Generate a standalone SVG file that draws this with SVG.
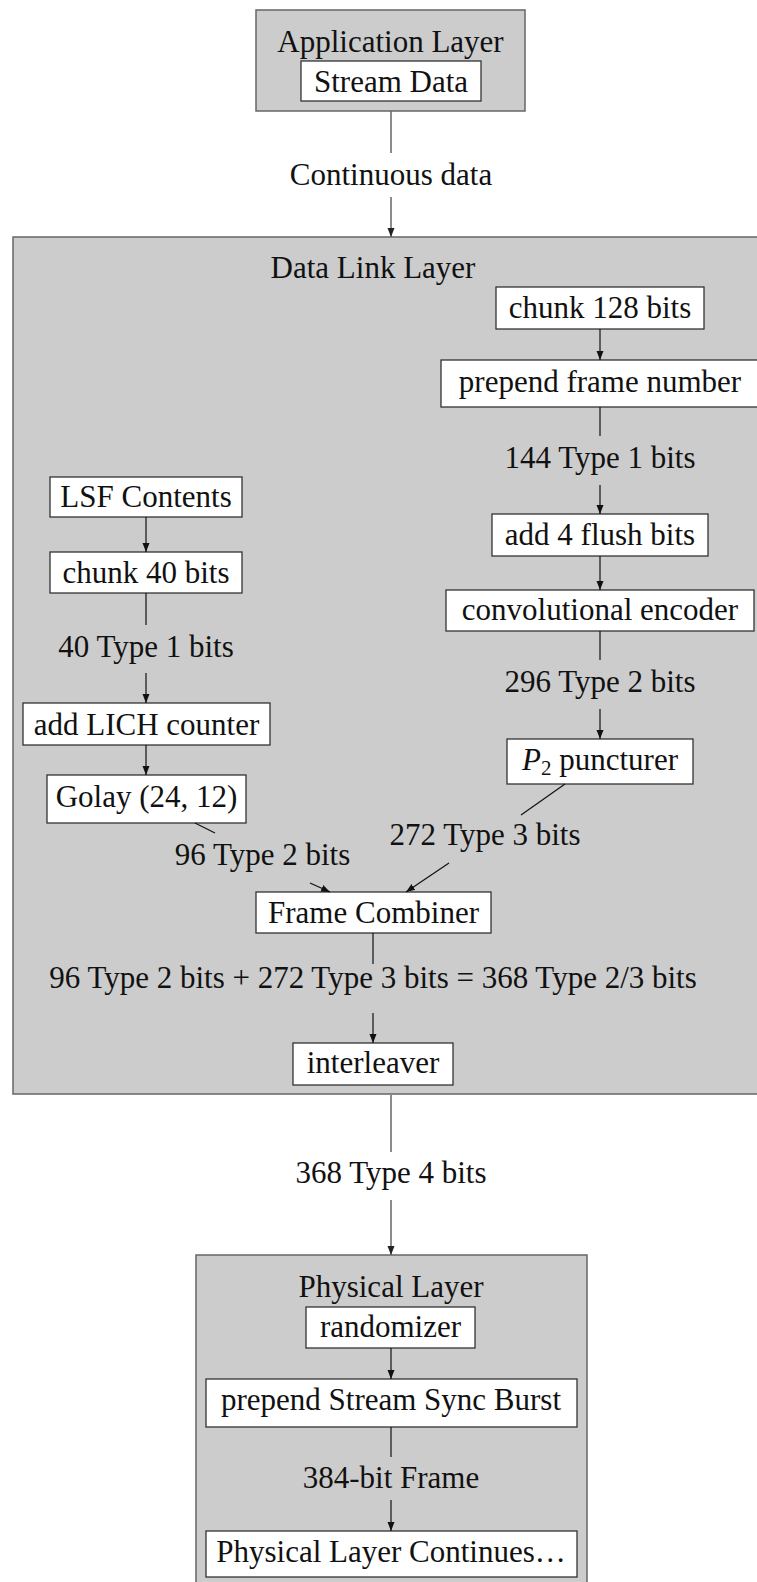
<svg xmlns="http://www.w3.org/2000/svg" width="757" height="1582" viewBox="0 0 757 1582">
<defs>
<style>
text{font-family:"Liberation Serif","Times New Roman",serif;font-size:31px;fill:#111;text-anchor:middle}
.layer{fill:#cccccc;stroke:#666;stroke-width:1.5}
.node{fill:#fff;stroke:#333;stroke-width:1.3}
.c{stroke:#111;stroke-width:1.2;fill:none}
.g{stroke:#666;stroke-width:1.5;fill:none}
</style>
<marker id="ab" markerUnits="userSpaceOnUse" markerWidth="10" markerHeight="10" viewBox="0 0 10 10" refX="9" refY="5" orient="auto"><path d="M0,1.5 L9,5 L0,8.5 z" fill="#111"/></marker>
<marker id="ag" markerUnits="userSpaceOnUse" markerWidth="10" markerHeight="10" viewBox="0 0 10 10" refX="9" refY="5" orient="auto"><path d="M0,1.5 L9,5 L0,8.5 z" fill="#222"/></marker>
</defs>

<g id="app-layer">
<rect class="layer" x="256" y="10" width="269" height="101"/>
<text x="390.5" y="52">Application Layer</text>
</g>
<g id="stream-data">
<rect class="node" x="301" y="61" width="180" height="40"/>
<text x="391" y="92">Stream Data</text>
</g>

<g id="dl-layer">
<rect class="layer" x="13" y="237" width="760" height="857"/>
<text x="373" y="278">Data Link Layer</text>
</g>

<g id="chunk128"><rect class="node" x="496" y="287" width="208" height="42"/><text x="600" y="318">chunk 128 bits</text></g>
<g id="prepend-fn"><rect class="node" x="441" y="360" width="330" height="47"/><text x="600" y="392">prepend frame number</text></g>
<g id="flush"><rect class="node" x="492" y="514" width="216" height="42"/><text x="600" y="545">add 4 flush bits</text></g>
<g id="conv"><rect class="node" x="446" y="590" width="308" height="41"/><text x="600" y="620">convolutional encoder</text></g>
<g id="punct"><rect class="node" x="507" y="739" width="186" height="45"/><text x="600" y="770"><tspan font-style="italic">P</tspan><tspan font-size="21" dy="5">2</tspan><tspan dy="-5"> puncturer</tspan></text></g>

<g id="lsf"><rect class="node" x="50" y="477" width="192" height="40"/><text x="146" y="507">LSF Contents</text></g>
<g id="chunk40"><rect class="node" x="50" y="552" width="192" height="41"/><text x="146" y="583">chunk 40 bits</text></g>
<g id="lich"><rect class="node" x="23" y="703" width="247" height="42"/><text x="146.5" y="735">add LICH counter</text></g>
<g id="golay"><rect class="node" x="47" y="775" width="199" height="48"/><text x="146.5" y="807">Golay (24, 12)</text></g>

<g id="combiner"><rect class="node" x="256" y="892" width="235" height="41"/><text x="373.5" y="923">Frame Combiner</text></g>
<g id="interleaver"><rect class="node" x="293" y="1043" width="160" height="42"/><text x="373" y="1073">interleaver</text></g>

<g id="phy-layer">
<rect class="layer" x="196" y="1255" width="391" height="340"/>
<text x="391" y="1297">Physical Layer</text>
</g>
<g id="randomizer"><rect class="node" x="306" y="1307" width="169" height="41"/><text x="390.5" y="1337">randomizer</text></g>
<g id="ssb"><rect class="node" x="206" y="1379" width="371" height="48"/><text x="391" y="1410">prepend Stream Sync Burst</text></g>
<g id="phy-cont"><rect class="node" x="206" y="1531" width="371" height="46"/><text x="391" y="1562">Physical Layer Continues…</text></g>

<g id="connectors">
<line class="g" x1="391" y1="111" x2="391" y2="153"/>
<line class="g" x1="391" y1="197" x2="391" y2="237" marker-end="url(#ag)"/>
<text x="391" y="185">Continuous data</text>

<line class="c" x1="600" y1="329" x2="600" y2="360" marker-end="url(#ab)"/>
<line class="c" x1="600" y1="407" x2="600" y2="436"/>
<text x="600" y="468">144 Type 1 bits</text>
<line class="c" x1="600" y1="485" x2="600" y2="514" marker-end="url(#ab)"/>
<line class="c" x1="600" y1="556" x2="600" y2="590" marker-end="url(#ab)"/>
<line class="c" x1="600" y1="631" x2="600" y2="660"/>
<text x="600" y="692">296 Type 2 bits</text>
<line class="c" x1="600" y1="709" x2="600" y2="739" marker-end="url(#ab)"/>
<line class="c" x1="565" y1="784" x2="521" y2="815"/>
<text x="485" y="845">272 Type 3 bits</text>
<line class="c" x1="449" y1="863" x2="406" y2="892" marker-end="url(#ab)"/>

<line class="c" x1="146" y1="517" x2="146" y2="552" marker-end="url(#ab)"/>
<line class="c" x1="146" y1="593" x2="146" y2="625"/>
<text x="146" y="657">40 Type 1 bits</text>
<line class="c" x1="146" y1="673" x2="146" y2="703" marker-end="url(#ab)"/>
<line class="c" x1="146" y1="745" x2="146" y2="775" marker-end="url(#ab)"/>
<line class="c" x1="195" y1="823" x2="215" y2="833"/>
<text x="262.5" y="865">96 Type 2 bits</text>
<line class="c" x1="310" y1="883" x2="330" y2="892" marker-end="url(#ab)"/>

<line class="c" x1="373" y1="933" x2="373" y2="964"/>
<text x="373" y="988">96 Type 2 bits + 272 Type 3 bits = 368 Type 2/3 bits</text>
<line class="c" x1="373" y1="1013" x2="373" y2="1043" marker-end="url(#ab)"/>

<line class="g" x1="391" y1="1095" x2="391" y2="1152"/>
<text x="391" y="1183">368 Type 4 bits</text>
<line class="g" x1="391" y1="1200" x2="391" y2="1255" marker-end="url(#ag)"/>

<line class="c" x1="391" y1="1348" x2="391" y2="1379" marker-end="url(#ab)"/>
<line class="c" x1="391" y1="1427" x2="391" y2="1457"/>
<text x="391" y="1488">384-bit Frame</text>
<line class="c" x1="391" y1="1500" x2="391" y2="1531" marker-end="url(#ab)"/>
</g>
</svg>
